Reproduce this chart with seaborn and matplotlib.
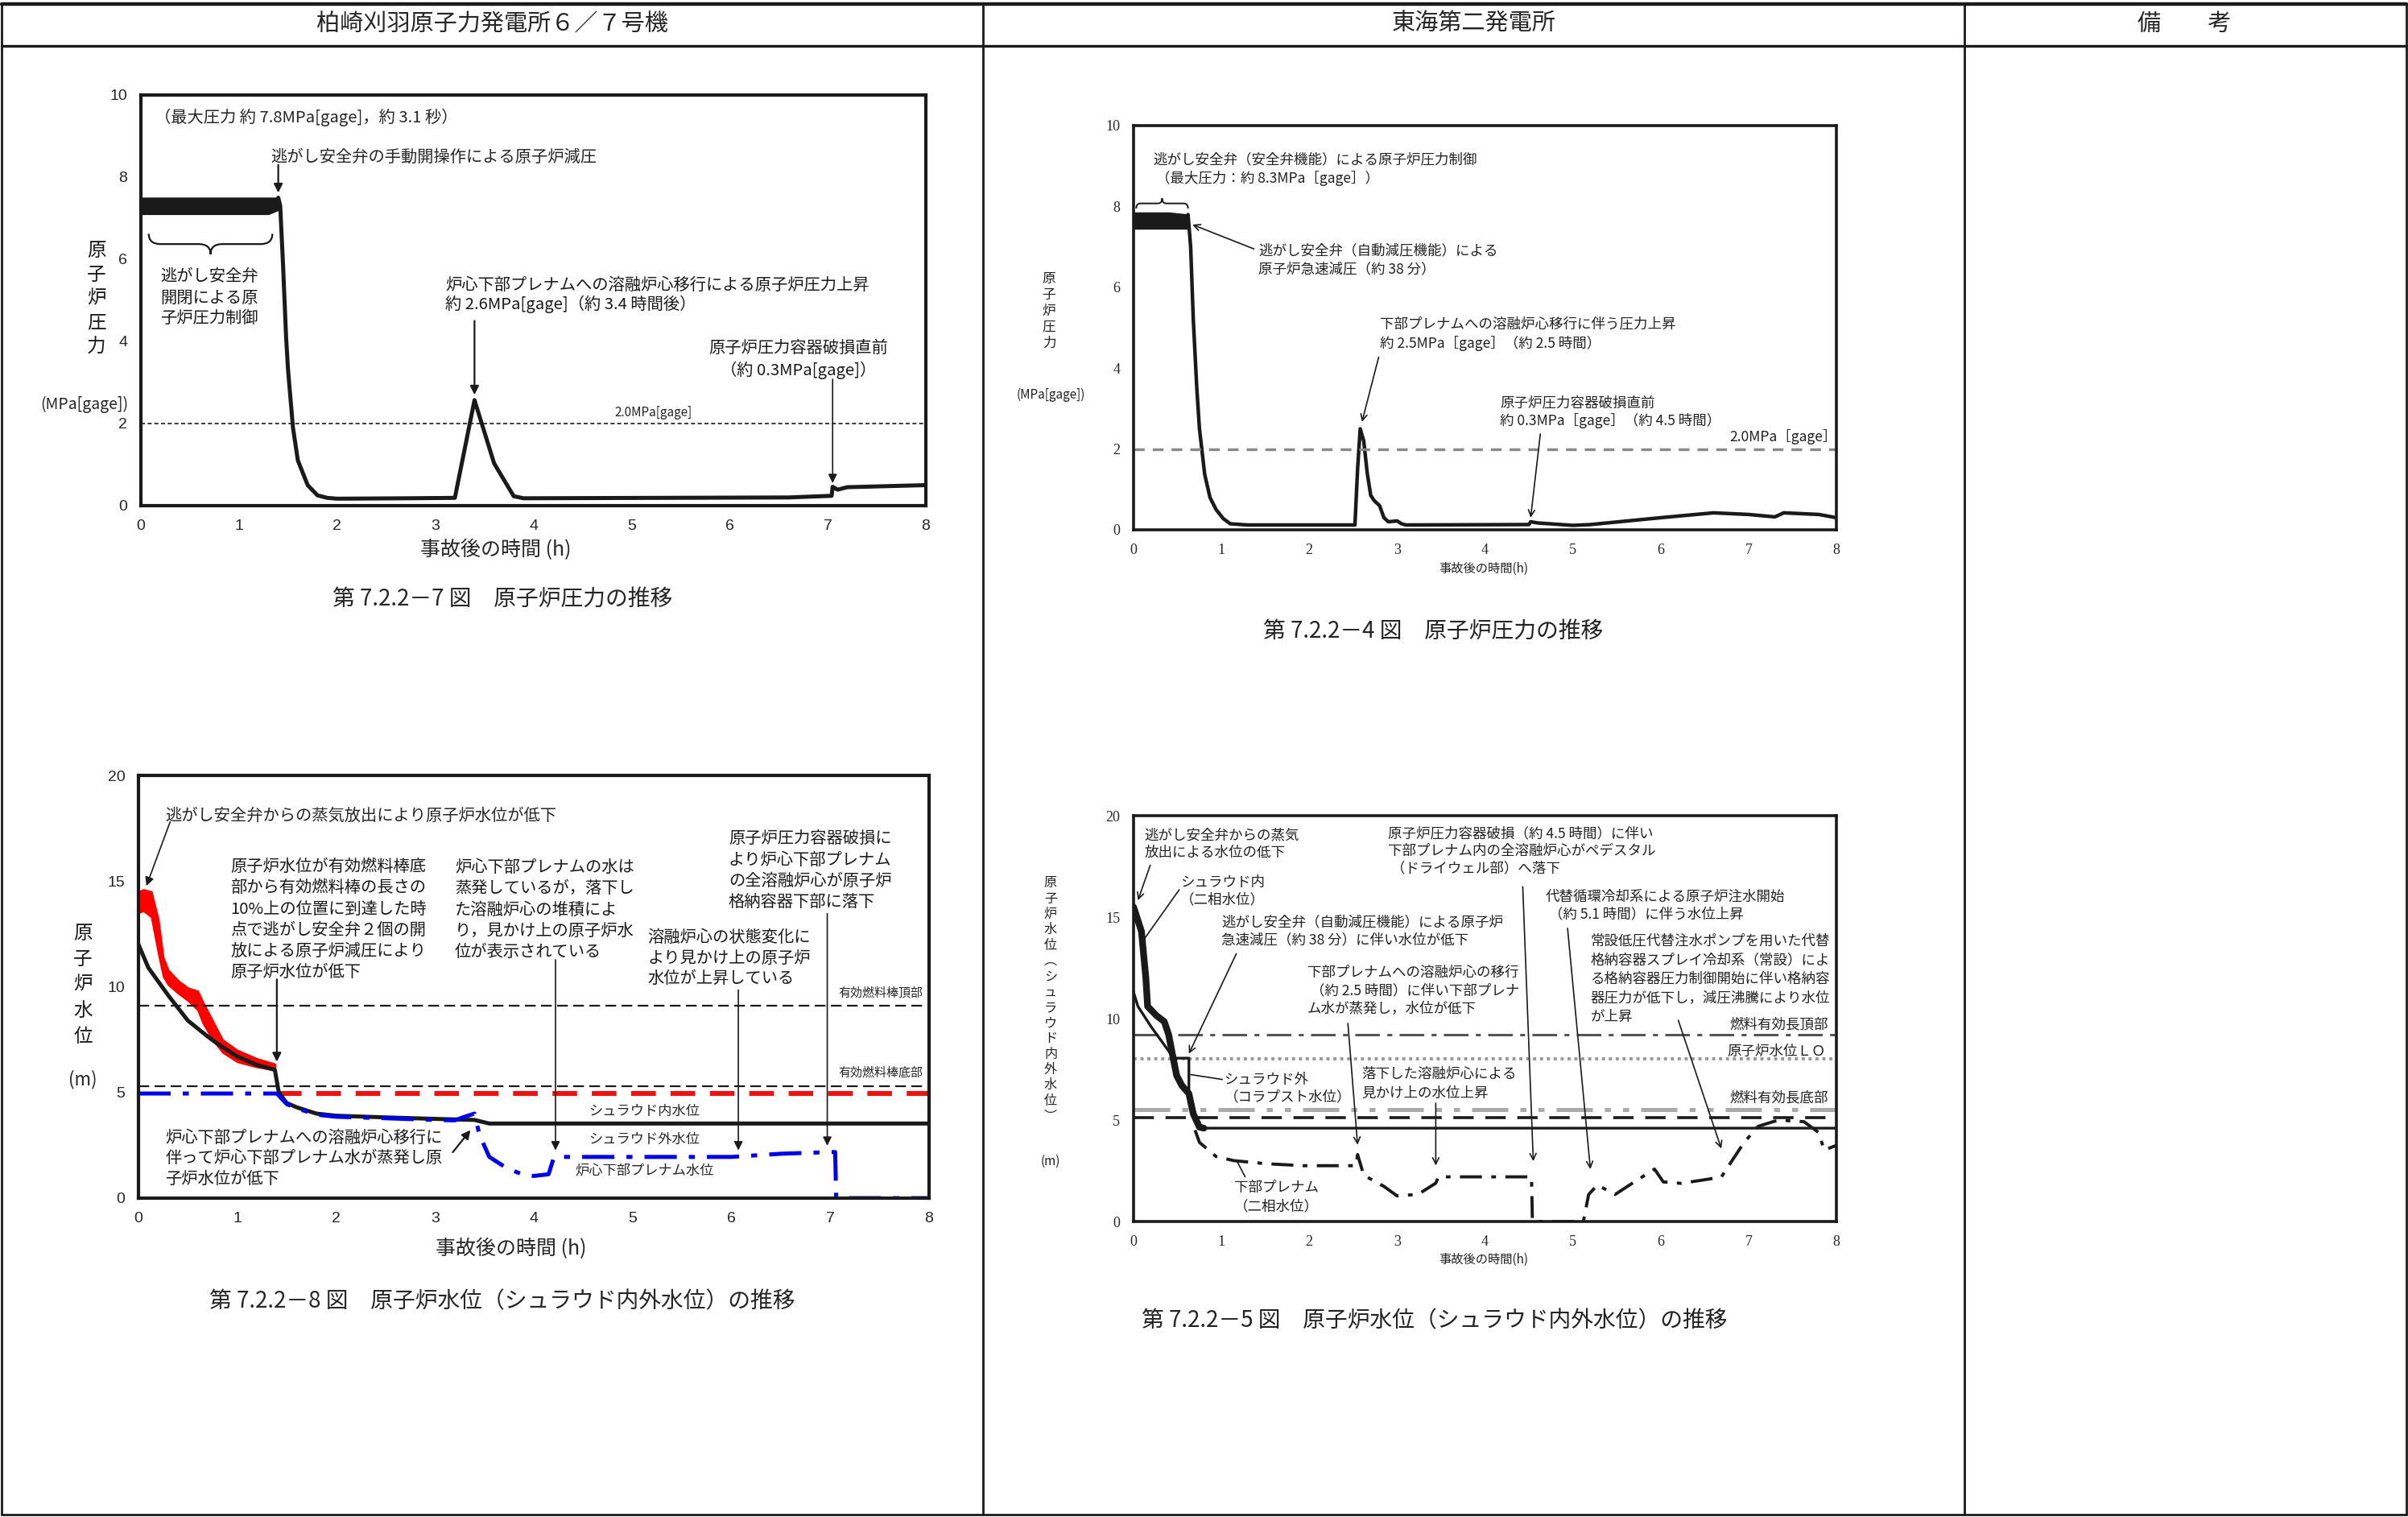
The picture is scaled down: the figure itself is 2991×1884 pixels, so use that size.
import matplotlib
matplotlib.use("Agg")
import matplotlib.pyplot as plt
from matplotlib.path import Path
from matplotlib.patches import PathPatch
from matplotlib.lines import Line2D
import seaborn as sns

# ---------------- data ----------------
# Kashiwazaki-Kariwa 6/7 : reactor pressure (MPa[gage])
kk_band_t = [0.0, 0.4, 0.8, 1.0, 1.2, 1.3, 1.4]
kk_band_lo = [7.1, 7.1, 7.1, 7.1, 7.1, 7.1, 7.2]
kk_band_hi = [7.5, 7.5, 7.5, 7.5, 7.5, 7.5, 7.5]
kk_p_t = [1.40, 1.42, 1.45, 1.48, 1.50, 1.55, 1.60, 1.70, 1.80, 1.90, 2.00, 2.70,
          3.20, 3.40, 3.60, 3.80, 3.90, 6.60, 7.04, 7.05, 7.10, 7.20, 8.00]
kk_p = [7.5, 7.3, 5.8, 4.1, 3.3, 1.9, 1.1, 0.5, 0.25, 0.19, 0.17, 0.18,
        0.19, 2.57, 1.03, 0.23, 0.18, 0.20, 0.24, 0.46, 0.39, 0.45, 0.50]
kk_p_ref = [2.0]

# Kashiwazaki-Kariwa 6/7 : water level (m)
kk_in_t = [0.0, 0.1, 0.3, 0.5, 0.7, 0.8, 1.0, 1.2, 1.38, 1.42, 1.5, 1.6, 1.8,
           2.0, 2.5, 3.0, 3.4, 3.55, 8.0]
kk_in = [12.0, 10.9, 9.6, 8.4, 7.65, 7.3, 6.7, 6.3, 6.07, 5.0, 4.5, 4.3, 4.0,
         3.9, 3.82, 3.75, 3.7, 3.53, 3.53]
kk_red_t = [0.0, 0.05, 0.13, 0.2, 0.25, 0.3, 0.4, 0.5, 0.6, 0.65, 0.75, 0.85,
            1.0, 1.2, 1.38]
kk_red_hi = [14.5, 14.6, 14.5, 13.2, 11.4, 10.8, 10.3, 9.95, 9.8, 9.3, 8.4, 7.5,
             7.0, 6.6, 6.35]
kk_red_lo = [13.5, 13.6, 13.3, 11.6, 10.5, 10.1, 9.7, 9.35, 8.9, 8.3, 7.5, 6.9,
             6.45, 6.2, 6.07]
kk_blue_t = [0.0, 1.4, 1.45, 1.5, 1.6, 1.8, 2.0, 2.5, 3.0, 3.2, 3.3, 3.4, 3.45,
             3.55, 3.7, 3.8, 3.9, 4.0, 4.15, 4.2, 4.25, 5.0, 6.0, 6.5, 7.0,
             7.05, 7.06, 8.0]
kk_blue = [4.95, 4.95, 4.7, 4.45, 4.25, 3.95, 3.85, 3.78, 3.7, 3.68, 3.85, 4.0,
           3.0, 1.95, 1.5, 1.28, 1.1, 1.05, 1.13, 1.88, 1.95, 1.95, 1.95, 2.1,
           2.18, 2.18, 0.0, 0.0]
kk_red_dash_t = [1.4, 8.0]
kk_red_dash = [4.95, 4.95]
kk_fuel_levels = [9.1, 5.3]

# Tokai No.2 : reactor pressure (MPa[gage])
tk_band_t = [0.0, 0.2, 0.4, 0.62]
tk_band_lo = [7.45, 7.45, 7.45, 7.45]
tk_band_hi = [7.85, 7.85, 7.85, 7.8]
tk_p_t = [0.62, 0.65, 0.68, 0.72, 0.75, 0.81, 0.87, 0.94, 1.02, 1.10, 1.30, 2.52,
          2.55, 2.58, 2.62, 2.66, 2.70, 2.74, 2.80, 2.85, 2.90, 3.00, 3.05, 3.10,
          4.50, 4.52, 4.60, 5.00, 5.20, 6.00, 6.60, 7.00, 7.30, 7.40, 7.80, 8.00]
tk_p = [7.8, 7.0, 5.2, 3.5, 2.5, 1.37, 0.8, 0.5, 0.28, 0.15, 0.12, 0.12,
        1.5, 2.5, 2.2, 1.4, 0.85, 0.72, 0.6, 0.3, 0.2, 0.22, 0.15, 0.12,
        0.13, 0.2, 0.17, 0.11, 0.13, 0.3, 0.42, 0.38, 0.32, 0.42, 0.38, 0.3]
tk_p_ref = [2.0]

# Tokai No.2 : water level (m)
tk_2ph_t = [0.0, 0.09, 0.14, 0.16, 0.26, 0.35, 0.4, 0.44, 0.49, 0.55, 0.63,
            0.68, 0.75, 0.8]
tk_2ph = [15.5, 14.3, 12.0, 10.6, 10.15, 9.85, 9.2, 8.3, 7.2, 6.7, 6.3,
          5.3, 4.65, 4.6]
tk_col_t = [0.0, 0.05, 0.2, 0.3, 0.4, 0.45, 0.63, 0.63, 0.7, 0.78, 8.0]
tk_col = [11.3, 10.6, 9.6, 9.0, 8.4, 8.05, 8.05, 6.3, 5.2, 4.6, 4.6]
tk_lp_t = [0.7, 0.75, 0.94, 1.14, 1.5, 1.93, 2.53, 2.55, 2.62, 2.85, 3.0, 3.24,
           3.44, 3.47, 4.0, 4.53, 4.54, 5.12, 5.18, 5.28, 5.48, 5.7, 5.93,
           6.03, 6.23, 6.46, 6.69, 6.82, 6.95, 7.11, 7.34, 7.63, 7.8, 7.86, 8.0]
tk_lp = [4.5, 3.9, 3.2, 3.0, 2.85, 2.75, 2.75, 3.3, 2.28, 1.73, 1.26, 1.34,
         1.89, 2.2, 2.2, 2.2, 0.0, 0.0, 1.33, 1.8, 1.33, 1.95, 2.58,
         1.95, 1.88, 2.03, 2.19, 3.05, 3.9, 4.69, 5.0, 4.92, 4.38, 3.52, 3.75]
tk_levels = [9.2, 8.0, 5.5, 5.1]

# ---------------- helpers ----------------
W, H = 2991, 1884


def fx(px):
    return px / W


def fy(py):
    return 1 - py / H


def block(ax, x, y, lines, pitch, size, ha="left", color="k"):
    for i, s in enumerate(lines):
        ax.text(x, y - i * pitch, s, fontsize=size, ha=ha, va="center", color=color)


def vtext(fig, x, y0, s, pitch, size, color="k"):
    for i, ch in enumerate(s):
        fig.text(fx(x), fy(y0 + i * pitch), ch, fontsize=size, ha="center",
                 va="center", color=color)


def arrow(ax, tail, head, style="-|>", lw=0.8, ms=8, color="k"):
    ax.annotate("", xy=head, xytext=tail,
                arrowprops=dict(arrowstyle=style, color=color, lw=lw,
                                shrinkA=0, shrinkB=0, mutation_scale=ms))


def brace(ax, x0, x1, y, h, d, lw=0.8):
    xm = (x0 + x1) / 2
    yc = y - h / 2
    verts = [(x0, y), (x0, yc), (x0 + d, yc), (xm - d, yc), (xm, yc), (xm, y - h),
             (xm, yc), (xm + d, yc), (x1 - d, yc), (x1, yc), (x1, y)]
    codes = [Path.MOVETO, Path.CURVE3, Path.CURVE3, Path.LINETO, Path.CURVE3,
             Path.CURVE3, Path.CURVE3, Path.CURVE3, Path.LINETO, Path.CURVE3,
             Path.CURVE3]
    ax.add_patch(PathPatch(Path(verts, codes), fc="none", ec="k", lw=lw))


def style_axes(ax, xt, yt, fam, size, lw, ylim):
    ax.set_xlim(0, 8)
    ax.set_ylim(*ylim)
    ax.set_xticks(xt)
    ax.set_yticks(yt)
    ax.set_xlabel("")
    ax.set_ylabel("")
    ax.tick_params(direction="in", length=3, width=0.8, labelsize=size, pad=6)
    for lab in ax.get_xticklabels() + ax.get_yticklabels():
        lab.set_fontfamily(fam)
    for sp in ax.spines.values():
        sp.set_linewidth(lw)
        sp.set_color("k")


# ---------------- figure ----------------
sns.set_theme(style="white")
plt.rcParams["font.family"] = ["Noto Sans CJK JP", "DejaVu Sans"]

fig = plt.figure(figsize=(W / 200, H / 200), dpi=200)

# table frame
for y in [5, 57]:
    fig.add_artist(Line2D([fx(2), fx(2989)], [fy(y), fy(y)], color="k",
                          lw=1.6 if y == 5 else 1.2))
fig.add_artist(Line2D([fx(2), fx(2989)], [fy(1881), fy(1881)], color="k", lw=1.0))
for x in [2, 1221, 2440, 2989]:
    fig.add_artist(Line2D([fx(x), fx(x)], [fy(5), fy(1881)], color="k", lw=1.0))
fig.text(fx(611), fy(30), "柏崎刈羽原子力発電所６／７号機", fontsize=10.5,
         ha="center", va="center")
fig.text(fx(1831), fy(30), "東海第二発電所", fontsize=10.5, ha="center", va="center")
fig.text(fx(2713), fy(30), "備　　考", fontsize=10.5, ha="center", va="center")

# ---------- top-left: KK pressure ----------
ax1 = fig.add_axes([fx(175), fy(628), fx(975), 510 / H])
ax1.fill_between(kk_band_t, kk_band_lo, kk_band_hi, color="k", lw=0.5)
sns.lineplot(x=kk_p_t, y=kk_p, ax=ax1, color="k", lw=1.8, estimator=None, sort=False)
for lv in kk_p_ref:
    ax1.axhline(lv, color="k", lw=0.6, ls=(0, (3, 2)))
style_axes(ax1, range(0, 9), range(0, 11, 2), "Liberation Sans", 7, 1.5, (0, 10))

ax1.text(0.14, 9.45, "（最大圧力 約 7.8MPa[gage]，約 3.1 秒）", fontsize=7.3, va="center")
ax1.text(1.32, 8.48, "逃がし安全弁の手動開操作による原子炉減圧", fontsize=7.3, va="center")
arrow(ax1, (1.4, 8.3), (1.4, 7.62))
brace(ax1, 0.08, 1.34, 6.62, 0.5, 0.12)
block(ax1, 0.2, 5.57, ["逃がし安全弁", "開閉による原", "子炉圧力制御"], 0.51, 7.3)
block(ax1, 3.1, 5.36, ["炉心下部プレナムへの溶融炉心移行による原子炉圧力上昇",
                       "約 2.6MPa[gage]（約 3.4 時間後）"], 0.46, 7.3)
arrow(ax1, (3.4, 4.5), (3.4, 2.7))
block(ax1, 6.7, 3.83, ["原子炉圧力容器破損直前", "（約 0.3MPa[gage]）"], 0.53, 7.3,
      ha="center")
arrow(ax1, (7.05, 3.08), (7.05, 0.55), lw=0.6)
ax1.text(5.22, 2.27, "2.0MPa[gage]", fontsize=5.5, ha="center", va="center")

vtext(fig, 120, 311, "原子炉圧力", 30, 8.5)
fig.text(fx(105), fy(502), "(MPa[gage])", fontsize=7, ha="center", va="center")
fig.text(fx(616), fy(683), "事故後の時間 (h)", fontsize=9, ha="center", va="center")
fig.text(fx(624), fy(744), "第 7.2.2－7 図　原子炉圧力の推移", fontsize=10,
         ha="center", va="center")

# ---------- bottom-left: KK water level ----------
ax2 = fig.add_axes([fx(172), fy(1488), fx(982), 525 / H])
for lv in kk_fuel_levels:
    ax2.axhline(lv, color="k", lw=0.8, ls=(0, (6, 3)))
ax2.fill_between(kk_red_t, kk_red_lo, kk_red_hi, color="#ff0000", lw=0.8)
sns.lineplot(x=kk_red_dash_t, y=kk_red_dash, ax=ax2, color="#ee1111", lw=2.2,
             ls=(0, (5, 3)), estimator=None, sort=False)
sns.lineplot(x=kk_in_t, y=kk_in, ax=ax2, color="k", lw=1.8, estimator=None, sort=False)
sns.lineplot(x=kk_blue_t, y=kk_blue, ax=ax2, color="#0000ee", lw=1.8,
             ls=(0, (8, 3, 1.5, 3)), estimator=None, sort=False)
style_axes(ax2, range(0, 9), range(0, 21, 5), "Liberation Sans", 7, 1.5, (0, 20))

ax2.text(0.27, 18.1, "逃がし安全弁からの蒸気放出により原子炉水位が低下", fontsize=7.3,
         va="center")
arrow(ax2, (0.32, 17.8), (0.08, 14.77), lw=0.6)
block(ax2, 0.93, 15.67, ["原子炉水位が有効燃料棒底", "部から有効燃料棒の長さの",
                         "10%上の位置に到達した時", "点で逃がし安全弁２個の開",
                         "放による原子炉減圧により", "原子炉水位が低下"], 1.0, 7.3)
arrow(ax2, (1.4, 10.35), (1.4, 6.45))
block(ax2, 3.2, 15.64, ["炉心下部プレナムの水は", "蒸発しているが，落下し",
                        "た溶融炉心の堆積によ", "り，見かけ上の原子炉水",
                        "位が表示されている"], 1.0, 7.3)
arrow(ax2, (4.22, 11.28), (4.22, 2.26), lw=0.6)
block(ax2, 5.15, 12.33, ["溶融炉心の状態変化に", "より見かけ上の原子炉",
                         "水位が上昇している"], 0.98, 7.3)
arrow(ax2, (6.07, 9.85), (6.07, 2.26), lw=0.6)
block(ax2, 5.97, 17.0, ["原子炉圧力容器破損に", "より炉心下部プレナム",
                        "の全溶融炉心が原子炉", "格納容器下部に落下"], 1.0, 7.3)
arrow(ax2, (6.97, 13.46), (6.97, 2.48), lw=0.6)
ax2.text(7.94, 9.7, "有効燃料棒頂部", fontsize=5.4, ha="right", va="center")
ax2.text(7.94, 5.94, "有効燃料棒底部", fontsize=5.4, ha="right", va="center")
ax2.text(5.12, 4.1, "シュラウド内水位", fontsize=6.2, ha="center", va="center")
ax2.text(5.12, 2.8, "シュラウド外水位", fontsize=6.2, ha="center", va="center")
ax2.text(5.12, 1.3, "炉心下部プレナム水位", fontsize=6.2, ha="center", va="center")
block(ax2, 0.27, 2.85, ["炉心下部プレナムへの溶融炉心移行に",
                        "伴って炉心下部プレナム水が蒸発し原", "子炉水位が低下"],
      0.98, 7.3)
arrow(ax2, (3.18, 2.17), (3.36, 3.22))

vtext(fig, 103, 1159, "原子炉水位", 32, 8.5)
fig.text(fx(103), fy(1341), "(m)", fontsize=8, ha="center", va="center")
fig.text(fx(635), fy(1551), "事故後の時間 (h)", fontsize=9, ha="center", va="center")
fig.text(fx(624), fy(1616), "第 7.2.2－8 図　原子炉水位（シュラウド内外水位）の推移",
         fontsize=10, ha="center", va="center")

# ---------- top-right: Tokai pressure ----------
tc = "#222222"
ax3 = fig.add_axes([fx(1408), fy(658), fx(873), 502 / H])
ax3.fill_between(tk_band_t, tk_band_lo, tk_band_hi, color="k", lw=0.5)
sns.lineplot(x=tk_p_t, y=tk_p, ax=ax3, color="k", lw=1.6, estimator=None, sort=False)
for lv in tk_p_ref:
    ax3.axhline(lv, color="#888888", lw=1.2, ls=(0, (4, 3)))
style_axes(ax3, range(0, 9), range(0, 11, 2), "Liberation Serif", 6.5, 1.3, (0, 10))

block(ax3, 0.22, 9.15, ["逃がし安全弁（安全弁機能）による原子炉圧力制御",
                        " （最大圧力：約 8.3MPa［gage］）"], 0.46, 6.3, color=tc)
brace(ax3, 0.03, 0.62, 7.95, -0.25, 0.05, lw=0.7)
block(ax3, 1.42, 6.9, ["逃がし安全弁（自動減圧機能）による",
                       "原子炉急速減圧（約 38 分）"], 0.46, 6.3, color=tc)
arrow(ax3, (1.37, 6.95), (0.67, 7.55), style="->", lw=0.6, ms=7)
block(ax3, 2.8, 5.1, ["下部プレナムへの溶融炉心移行に伴う圧力上昇",
                      "約 2.5MPa［gage］（約 2.5 時間）"], 0.48, 6.3, color=tc)
arrow(ax3, (2.79, 4.27), (2.6, 2.67), style="->", lw=0.6, ms=7)
block(ax3, 4.17, 3.13, ["原子炉圧力容器破損直前",
                        "約 0.3MPa［gage］（約 4.5 時間）"], 0.43, 6.3, color=tc)
arrow(ax3, (4.63, 2.37), (4.52, 0.3), style="->", lw=0.6, ms=7)
ax3.text(6.78, 2.3, "2.0MPa［gage］", fontsize=6.3, va="center", color=tc)

vtext(fig, 1303, 346, "原子炉圧力", 20, 6, color=tc)
fig.text(fx(1305), fy(490), "(MPa[gage])", fontsize=5.5, ha="center", va="center",
         color=tc)
fig.text(fx(1843), fy(706), "事故後の時間(h)", fontsize=5.5, ha="center", va="center",
         color=tc)
fig.text(fx(1780), fy(784), "第 7.2.2－4 図　原子炉圧力の推移", fontsize=10,
         ha="center", va="center", color=tc)

# ---------- bottom-right: Tokai water level ----------
ax4 = fig.add_axes([fx(1408), fy(1517), fx(873), 504 / H])
lv_styles = [dict(color="#555555", lw=1.1, ls=(0, (10, 3, 2, 3))),
             dict(color="#999999", lw=1.4, ls=(0, (1, 1.2))),
             dict(color="#aaaaaa", lw=1.8, ls=(0, (9, 3, 1.5, 3, 1.5, 3))),
             dict(color="k", lw=1.3, ls=(0, (7, 4)))]
for lv, st in zip(tk_levels, lv_styles):
    ax4.axhline(lv, **st)
sns.lineplot(x=tk_col_t, y=tk_col, ax=ax4, color="k", lw=1.2, estimator=None, sort=False)
sns.lineplot(x=tk_2ph_t, y=tk_2ph, ax=ax4, color="k", lw=3.0, estimator=None, sort=False)
sns.lineplot(x=tk_lp_t, y=tk_lp, ax=ax4, color="k", lw=1.4, ls=(0, (7, 3, 1.5, 3)),
             estimator=None, sort=False)
style_axes(ax4, range(0, 9), range(0, 21, 5), "Liberation Serif", 6.5, 1.3, (0, 20))

ts = 6.3
block(ax4, 0.12, 19.05, ["逃がし安全弁からの蒸気", "放出による水位の低下"], 0.87, ts, color=tc)
arrow(ax4, (0.19, 17.56), (0.05, 15.83), style="->", lw=0.6, ms=7)
block(ax4, 1.01, 16.7, ["シュラウド内", "（二相水位）"], 0.85, ts, ha="center", color=tc)
arrow(ax4, (0.52, 16.35), (0.11, 13.85), style="-", lw=0.6)
block(ax4, 1.0, 14.73, ["逃がし安全弁（自動減圧機能）による原子炉",
                        "急速減圧（約 38 分）に伴い水位が低下"], 0.87, ts, color=tc)
arrow(ax4, (1.17, 13.2), (0.63, 8.27), style="->", lw=0.6, ms=7)
block(ax4, 1.03, 7.0, ["シュラウド外", "（コラプスト水位）"], 0.87, ts, color=tc)
arrow(ax4, (1.01, 7.0), (0.65, 7.24), style="-", lw=0.6)
block(ax4, 1.63, 1.65, ["下部プレナム", "（二相水位）"], 0.9, ts, ha="center", color=tc)
arrow(ax4, (1.27, 2.2), (1.18, 2.95), style="-", lw=0.6)
block(ax4, 2.9, 19.1, ["原子炉圧力容器破損（約 4.5 時間）に伴い",
                       "下部プレナム内の全溶融炉心がペデスタル",
                       " （ドライウェル部）へ落下"], 0.85, ts, color=tc)
arrow(ax4, (4.43, 16.5), (4.55, 2.97), style="->", lw=0.6, ms=7)
block(ax4, 4.69, 16.0, ["代替循環冷却系による原子炉注水開始",
                        " （約 5.1 時間）に伴う水位上昇"], 0.86, ts, color=tc)
arrow(ax4, (4.94, 14.45), (5.2, 2.58), style="->", lw=0.6, ms=7)
block(ax4, 5.2, 13.83, ["常設低圧代替注水ポンプを用いた代替",
                        "格納容器スプレイ冷却系（常設）によ",
                        "る格納容器圧力制御開始に伴い格納容",
                        "器圧力が低下し，減圧沸騰により水位",
                        "が上昇"], 0.94, ts, color=tc)
arrow(ax4, (6.2, 9.92), (6.69, 3.59), style="->", lw=0.6, ms=7)
block(ax4, 1.98, 12.28, ["下部プレナムへの溶融炉心の移行",
                         " （約 2.5 時間）に伴い下部プレナ",
                         "ム水が蒸発し，水位が低下"], 0.9, ts, color=tc)
arrow(ax4, (2.44, 9.76), (2.55, 3.78), style="->", lw=0.6, ms=7)
block(ax4, 2.6, 7.25, ["落下した溶融炉心による", "見かけ上の水位上昇"], 0.92, ts, color=tc)
arrow(ax4, (3.44, 5.83), (3.44, 2.76), style="->", lw=0.6, ms=7)
ax4.text(7.91, 9.69, "燃料有効長頂部", fontsize=ts, ha="right", va="center", color=tc)
ax4.text(7.88, 8.36, "原子炉水位ＬＯ", fontsize=ts, ha="right", va="center", color=tc)
ax4.text(7.91, 6.09, "燃料有効長底部", fontsize=ts, ha="right", va="center", color=tc)

vtext(fig, 1305, 1097, "原子炉水位︵シュラウド内外水位︶", 19.3, 5.8, color=tc)
fig.text(fx(1305), fy(1442), "(m)", fontsize=5.5, ha="center", va="center", color=tc)
fig.text(fx(1843), fy(1564), "事故後の時間(h)", fontsize=5.5, ha="center", va="center",
         color=tc)
fig.text(fx(1782), fy(1640), "第 7.2.2－5 図　原子炉水位（シュラウド内外水位）の推移",
         fontsize=10, ha="center", va="center", color=tc)

fig.savefig("out.png", dpi=200)
